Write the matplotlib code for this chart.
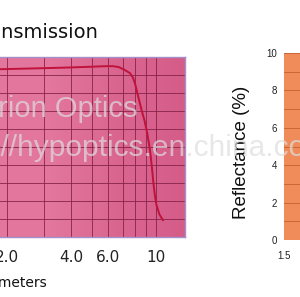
import numpy as np
import matplotlib
matplotlib.use("Agg")
import matplotlib.pyplot as plt
from matplotlib.colors import LinearSegmentedColormap

# ---- data ----
wavelength = [1.5, 2.0, 3.0, 4.0, 5.0, 5.8, 6.3, 6.7, 7.1, 7.57, 7.82, 8.0, 8.25, 8.6,
              8.86, 9.1, 9.3, 9.45, 9.6, 9.74, 9.9, 10.07, 10.4, 10.8]
transmission = [93.0, 93.3, 93.8, 94.2, 94.6, 94.9, 94.9, 94.4, 93.0, 91.0, 88.5, 85.0, 78.5, 70.0,
                64.5, 58.0, 51.5, 45.5, 38.0, 30.0, 23.0, 17.8, 12.5, 9.4]
x_ticks = [2.0, 4.0, 6.0, 10.0]
x_ticklabels = ["2.0", "4.0", "6.0", "10"]
x_grid = [2, 3, 4, 5, 6, 7, 8, 9, 10]
y_grid = list(range(0, 101, 10))

refl_yticks = [0, 2, 4, 6, 8, 10]
refl_xticks = [1.5]
refl_xticklabels = ["1.5"]

W, H = 300, 297
fig = plt.figure(figsize=(W / 100, H / 100), dpi=100)
fig.patch.set_facecolor("white")

def frac(x0, y0, x1, y1):
    return [x0 / W, 1 - y1 / H, (x1 - x0) / W, (y1 - y0) / H]

# ---- left: transmission ----
ax = fig.add_axes(frac(-20, 57, 185, 237))
ax.set_xscale("log")
ax.set_xlim(1.5, 13.7)
ax.set_ylim(0, 100)
cmap = LinearSegmentedColormap.from_list("pk", ["#e2769c", "#e3779d", "#da6690", "#d55c89"])
grad = np.linspace(0, 1, 256).reshape(1, -1)
ax.imshow(grad, extent=[0, 1, 0, 1], transform=ax.transAxes, cmap=cmap,
          aspect="auto", zorder=0)
for gx in x_grid:
    ax.axvline(gx, color="#862247", lw=0.7, alpha=0.85, zorder=1)
for gy in y_grid:
    ax.axhline(gy, color="#862247", lw=0.7, alpha=0.85, zorder=1)
ax.plot(wavelength, transmission, color="#c0123a", lw=1.4, zorder=3)
ax.set_xticks(x_ticks)
ax.set_xticklabels(x_ticklabels)
ax.xaxis.set_minor_locator(matplotlib.ticker.NullLocator())
ax.tick_params(axis="x", length=0, pad=9, labelsize=11, labelcolor="#222222")
ax.set_yticks([])
for s in ax.spines.values():
    s.set_color("#a58fc8")
    s.set_linewidth(1.0)

fig.text(98 / W, 1 - 38 / H, "Transmission", ha="right", va="baseline",
         fontsize=14, color="#111111", family="DejaVu Sans")
fig.text(47 / W, 1 - 287 / H, "Wavelength in micrometers", ha="right", va="baseline",
         fontsize=10, color="#111111", family="DejaVu Sans")

# ---- right: reflectance ----
ax2 = fig.add_axes(frac(284, 53, 420, 240))
ax2.set_facecolor("#ef8c5a")
ax2.set_xlim(1.5, 3.0)
ax2.set_ylim(0, 10)
for gy in range(0, 11):
    ax2.axhline(gy, color="#c8683a", lw=0.7, zorder=1)
ax2.set_yticks(refl_yticks)
ax2.set_xticks(refl_xticks)
ax2.set_xticklabels(refl_xticklabels)
ax2.tick_params(axis="both", length=0, labelsize=7, labelcolor="#222222")
ax2.tick_params(axis="y", pad=5)
ax2.tick_params(axis="x", pad=8)
for lab in ax2.get_xticklabels() + ax2.get_yticklabels():
    lab.set_family("Liberation Sans")
for s in ax2.spines.values():
    s.set_visible(False)
fig.text(241 / W, 1 - 152.5 / H, "Reflectance (%)", rotation=90, ha="center", va="center",
         fontsize=13.5, color="#111111", family="Liberation Sans", zorder=2)

# ---- watermark ----
fig.text(-70 / W, 1 - 117 / H, "Hyperion Optics", ha="left", va="baseline",
         fontsize=21, color="#dedede", alpha=0.7, family="Liberation Sans", zorder=4)
fig.text(-57 / W, 1 - 156 / H, "http://hypoptics.en.china.com", ha="left", va="baseline",
         fontsize=21.5, color="#dedede", alpha=0.7, family="Liberation Sans", zorder=4)

fig.savefig("out.png", dpi=100)
